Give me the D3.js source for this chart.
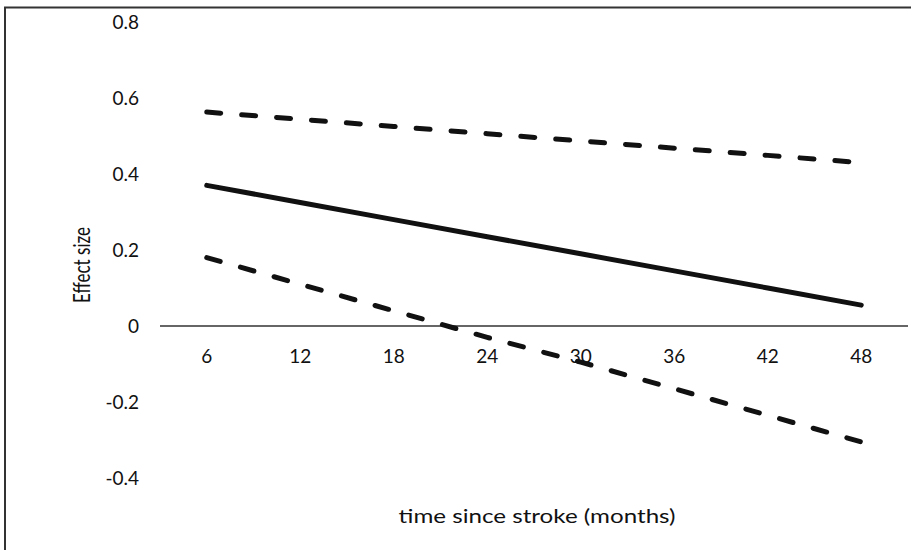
<!DOCTYPE html>
<html>
<head>
  <meta charset="utf-8">
  <title>Effect size over time</title>
  <style>
   html, body { margin: 0; padding: 0; background: #fff; }
   text { font-family: Lato, "Open Sans", sans-serif; fill: #111; }
  </style>
</head>
<body>
  <div id="chart"></div>
  <script src="https://d3js.org/d3.v7.min.js"></script>
  <script>
// data
var months = ["6", "12", "18", "24", "30", "36", "42", "48"];
var estimate = [0.37, 0.325, 0.28, 0.235, 0.19, 0.145, 0.10, 0.055];
var upper = [0.563, 0.544, 0.525, 0.506, 0.487, 0.468, 0.449, 0.43];
var lower = [0.18, 0.11, 0.04, -0.03, -0.095, -0.165, -0.235, -0.305];
var yTicks = [0.8, 0.6, 0.4, 0.2, 0, -0.2, -0.4];

var width = 911, height = 550;

var svg = d3.select("#chart").append("svg")
  .attr("width", width)
  .attr("height", height);

// chart border (runs off right and bottom like the original)
svg.append("rect")
  .attr("x", 5).attr("y", 7.5)
  .attr("width", 920).attr("height", 560)
  .attr("fill", "none")
  .attr("stroke", "#333")
  .attr("stroke-width", 2);

var x = d3.scaleBand().domain(months).range([160, 908]);
var y = d3.scaleLinear().domain([-0.4, 0.8]).range([478, 22]);

// plain hyphen for negatives, like the original
function fmt(v) { return v === 0 ? "0" : v.toFixed(1); }

// y labels
svg.selectAll(".ylab")
  .data(yTicks)
  .enter().append("text")
  .attr("class", "ylab")
  .attr("x", 139)
  .attr("y", function(d) { return y(d); })
  .attr("dy", "0.35em")
  .attr("text-anchor", "end")
  .style("font-size", "19px")
  .text(fmt);

// category axis at zero
svg.append("line")
  .attr("x1", 160).attr("x2", 908)
  .attr("y1", y(0)).attr("y2", y(0))
  .attr("stroke", "#333")
  .attr("stroke-width", 1.5);

svg.selectAll(".xlab")
  .data(months)
  .enter().append("text")
  .attr("class", "xlab")
  .attr("x", function(d) { return x(d) + x.bandwidth() / 2; })
  .attr("y", y(0) + 30)
  .attr("dy", "0.35em")
  .attr("text-anchor", "middle")
  .style("font-size", "19px")
  .text(function(d) { return d; });

var line = d3.line()
  .x(function(d, i) { return x(months[i]) + x.bandwidth() / 2; })
  .y(function(d) { return y(d); });

svg.append("path")
  .datum(estimate)
  .attr("d", line)
  .attr("fill", "none")
  .attr("stroke", "#111")
  .attr("stroke-width", 5)
  .attr("stroke-linecap", "round");

[upper, lower].forEach(function(s) {
  svg.append("path")
    .datum(s)
    .attr("d", line)
    .attr("fill", "none")
    .attr("stroke", "#111")
    .attr("stroke-width", 5)
    .attr("stroke-linecap", "round")
    .attr("stroke-dasharray", "14,21");
});

// axis titles (the original looks stretched sideways)
svg.append("text")
  .attr("transform", "translate(90,265) rotate(-90) scale(1,1.35)")
  .attr("text-anchor", "middle")
  .style("font-size", "17px")
  .text("Effect size");

svg.append("text")
  .attr("x", 537)
  .attr("y", 516)
  .attr("dy", "0.35em")
  .attr("text-anchor", "middle")
  .attr("textLength", 277)
  .attr("lengthAdjust", "spacingAndGlyphs")
  .style("font-size", "20px")
  .text("time since stroke (months)");
  </script>
</body>
</html>
